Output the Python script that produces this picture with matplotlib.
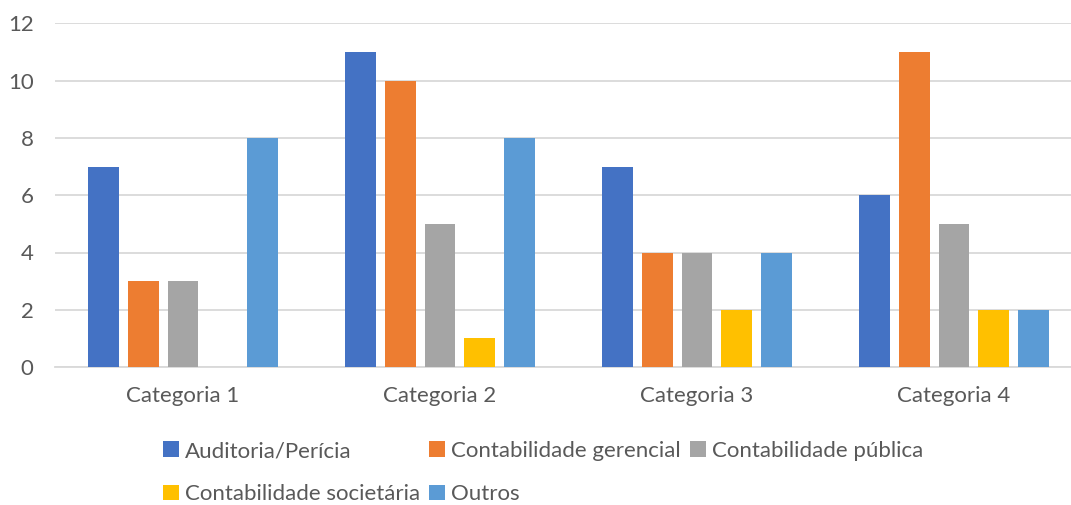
import matplotlib
matplotlib.use("Agg")
import matplotlib.pyplot as plt
import numpy as np

categories = ["Categoria 1", "Categoria 2", "Categoria 3", "Categoria 4"]
series_names = ["Auditoria/Perícia", "Contabilidade gerencial", "Contabilidade pública",
                "Contabilidade societária", "Outros"]
auditoria = [7, 11, 7, 6]
gerencial = [3, 10, 4, 11]
publica = [3, 5, 4, 5]
societaria = [0, 1, 2, 2]
outros = [8, 8, 4, 2]
series_values = [auditoria, gerencial, publica, societaria, outros]
colors = ["#4472C4", "#ED7D31", "#A5A5A5", "#FFC000", "#5B9BD5"]

plt.rcParams['font.family'] = ['Lato', 'DejaVu Sans']
text_color = "#595959"
grid_color = "#D9D9D9"

W, H = 1071, 505
fig = plt.figure(figsize=(W / 100, H / 100), dpi=100)
ax_left, ax_bottom, ax_top = 54.5, 367, 23.5
ax = fig.add_axes([ax_left / W, 1 - ax_bottom / H, 1 - ax_left / W, (ax_bottom - ax_top) / H])

x = np.arange(len(categories))
step = 0.1545
width = 0.1206
handles = []
for i, (name, vals, col) in enumerate(zip(series_names, series_values, colors)):
    b = ax.bar(x + (i - 2) * step, vals, width=width, color=col, label=name, zorder=3)
    handles.append(b)

# visible region ends at the image edge; each category takes 257 px
ax.set_xlim(-0.5, -0.5 + (W - ax_left) / 257)
ax.set_ylim(0, 12)
ax.set_yticks(range(0, 13, 2))
ax.set_xticks(x)
ax.set_xticklabels(categories)
ax.yaxis.grid(True, color=grid_color, linewidth=1.3, zorder=0)
for s in ["top", "right", "left"]:
    ax.spines[s].set_visible(False)
ax.spines["bottom"].set_color(grid_color)
ax.spines["bottom"].set_linewidth(1.3)
ax.tick_params(axis="both", length=0, labelsize=16, labelcolor=text_color)
ax.tick_params(axis="y", pad=15)
ax.tick_params(axis="x", pad=14)

# legend entries reordered so they read row by row like Excel
order = [0, 3, 1, 4, 2]
leg = fig.legend([handles[i] for i in order], [series_names[i] for i in order],
                 ncol=3, loc="upper left", bbox_to_anchor=(163 / W, 1 - 441 / H),
                 frameon=False, fontsize=16, handlelength=0.7, handleheight=0.7,
                 handletextpad=0.3, columnspacing=0.4, labelspacing=1.05,
                 borderpad=0, borderaxespad=0, labelcolor=text_color)

fig.savefig("out.png", dpi=100)
